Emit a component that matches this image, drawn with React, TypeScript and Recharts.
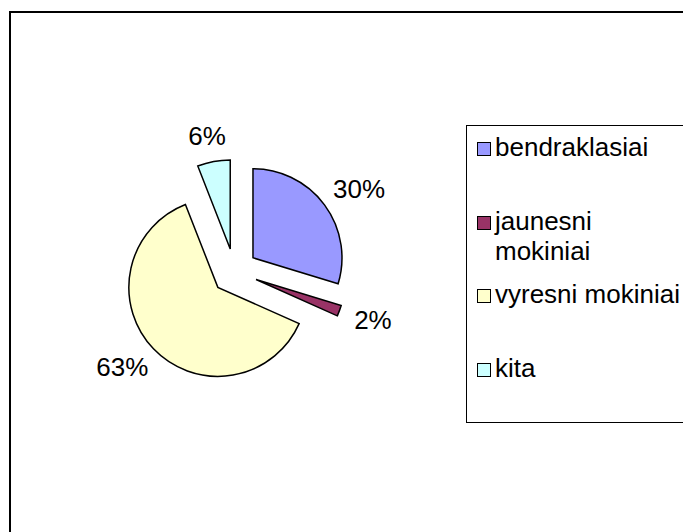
import React from 'react';
import { PieChart, Pie, Cell, Legend } from 'recharts';

const CATEGORIES = ['bendraklasiai', 'jaunesni mokiniai', 'vyresni mokiniai', 'kita'];
const VALUES = [30, 2, 63, 6];
const COLORS = ['#9999FF', '#993366', '#FFFFCC', '#CCFFFF'];

const FONT = '"Liberation Sans", Arial, sans-serif';
const FS = 26;
const CX = 234.5;
const CY = 271.5;
const RADIUS = 89;
const EXPLODE = 23;
const RADIAN = Math.PI / 180;

const data = CATEGORIES.map((name, i) => ({ name, value: VALUES[i] }));
const total = VALUES.reduce((a, b) => a + b, 0);

// offset of each exploded slice along its bisector
const offsets = VALUES.map((v, i) => {
  const before = VALUES.slice(0, i).reduce((a, b) => a + b, 0);
  const mid = ((before + v / 2) / total) * 360 * RADIAN; // clockwise from 12 o'clock
  return { dx: EXPLODE * Math.sin(mid), dy: -EXPLODE * Math.cos(mid) };
});

const makeLabel = (slice: number) => (props: any) => {
  if (props.index !== slice) return null;
  const { cx, cy, midAngle, outerRadius, value } = props;
  const dirX = Math.cos(-midAngle * RADIAN);
  const dirY = Math.sin(-midAngle * RADIAN);
  const text = `${value}%`;
  const w = FS * (0.556 * (text.length - 1) + 0.889);
  const h = 19;
  const r = outerRadius + 17;
  const x = cx + r * dirX + (w / 2) * dirX;
  const y = cy + r * dirY + (h / 2) * dirY;
  return (
    <text x={x} y={y + 0.358 * FS} textAnchor="middle" fill="#000" fontSize={FS} fontFamily={FONT}>
      {text}
    </text>
  );
};

const renderLegend = () => (
  <div
    style={{
      position: 'relative',
      width: '100%',
      height: '100%',
      boxSizing: 'border-box',
      border: '1px solid #000',
      fontFamily: FONT,
      fontSize: FS,
      lineHeight: '30px',
      color: '#000',
    }}
  >
    {CATEGORIES.map((name, i) => (
      <div
        key={name}
        style={{ position: 'absolute', left: 10, top: 6 + i * 73.7, display: 'flex', alignItems: 'flex-start' }}
      >
        <div
          style={{
            width: 14,
            height: 14,
            marginTop: 10,
            marginRight: 4,
            boxSizing: 'border-box',
            border: '1.5px solid #000',
            background: COLORS[i],
            flex: 'none',
          }}
        />
        <div style={{ width: 190 }}>{name}</div>
      </div>
    ))}
  </div>
);

const App = () => {
  return (
    <div
      style={{
        position: 'fixed',
        left: 0,
        top: 0,
        width: 683,
        height: 532,
        overflow: 'hidden',
        background: '#fff',
        fontFamily: FONT,
      }}
    >
      <div
        style={{
          position: 'absolute',
          left: 9,
          top: 11,
          width: 720,
          height: 600,
          border: '2px solid #000',
        }}
      />
      <div style={{ position: 'absolute', left: 0, top: 0 }}>
        <PieChart width={683} height={532} margin={{ top: 0, right: 0, bottom: 0, left: 0 }}>
          {VALUES.map((_, s) => (
            <Pie
              key={`pie-${s}`}
              data={data}
              dataKey="value"
              nameKey="name"
              cx={CX + offsets[s].dx}
              cy={CY + offsets[s].dy}
              outerRadius={RADIUS}
              innerRadius={0}
              startAngle={90}
              endAngle={-270}
              labelLine={false}
              label={makeLabel(s)}
              isAnimationActive={false}
            >
              {data.map((entry, i) => (
                <Cell
                  key={`cell-${s}-${i}`}
                  fill={i === s ? COLORS[i] : 'none'}
                  stroke={i === s ? '#000' : 'none'}
                  strokeWidth={1.5}
                />
              ))}
            </Pie>
          ))}
          <Legend
            content={renderLegend}
            wrapperStyle={{ position: 'absolute', left: 466, top: 125, width: 240, height: 298, margin: 0 }}
          />
        </PieChart>
      </div>
    </div>
  );
};

export default App;
